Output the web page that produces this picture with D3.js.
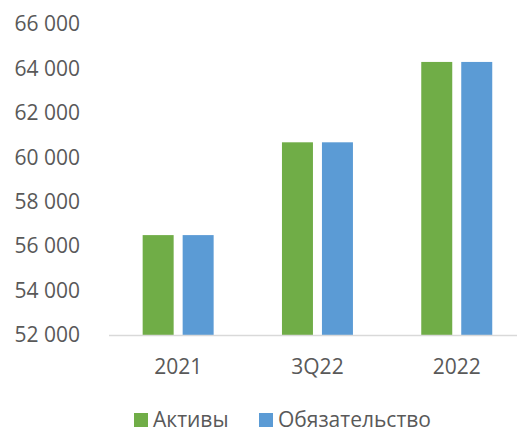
<!DOCTYPE html>
<html>
<head>
<meta charset="utf-8">
<script src="https://cdn.jsdelivr.net/npm/d3@7"></script>
<style>
  body { margin: 0; background: #fff; }
  svg { display: block; font-family: "Open Sans", sans-serif; }
</style>
</head>
<body>
<svg></svg>
<script>
let categories = ['2021', '3Q22', '2022']
let seriesNames = ['Активы', 'Обязательство']
let assets = [56500, 60680, 64300]
let liabilities = [56500, 60680, 64300]
let yTicks = [52000, 54000, 56000, 58000, 60000, 62000, 64000, 66000]
let colors = ['#70AD47', '#5B9BD5']

let width = 517
let height = 427
let plotLeft = 108.5
let step = 139.3
let plotBottom = 335
let plotTop = 24.2

let svg = d3.select('svg')
    .attr('width', width)
    .attr('height', height)

let values = [assets, liabilities]

let xScale = d3.scaleBand()
    .domain(categories)
    .range([plotLeft, plotLeft + step * categories.length])

let xInner = d3.scaleBand()
    .domain(seriesNames)
    .range([0, xScale.bandwidth()])
    .paddingInner(0.225)
    .paddingOuter(0.854)

let yScale = d3.scaleLinear()
    .domain([52000, 66000])
    .range([plotBottom, plotTop])

let fmt = d => d3.format(',')(d).replace(/,/g, ' ')

// y labels (no axis line)
let yAxis = d3.axisLeft(yScale)
    .tickValues(yTicks)
    .tickSize(0)
    .tickPadding(0)
    .tickFormat(fmt)
svg.append('g')
    .attr('transform', 'translate(80, 0)')
    .call(yAxis)
    .call(g => g.select('.domain').remove())
    .selectAll('text')
    .attr('fill', '#595959')
    .style('font-size', '21px')
    .style('font-family', '"Open Sans", sans-serif')

// bars
categories.forEach((cat, i) => {
    seriesNames.forEach((s, j) => {
        svg.append('rect')
            .attr('x', xScale(cat) + xInner(s))
            .attr('y', yScale(values[j][i]))
            .attr('width', xInner.bandwidth())
            .attr('height', plotBottom - yScale(values[j][i]))
            .attr('fill', colors[j])
    })
})

// x axis
let xAxis = d3.axisBottom(xScale)
    .tickSize(0)
    .tickPadding(24)
svg.append('g')
    .attr('transform', 'translate(0, ' + plotBottom + ')')
    .call(xAxis)
    .call(g => g.select('.domain').attr('stroke', '#D9D9D9').attr('stroke-width', 1.3))
    .selectAll('text')
    .attr('fill', '#595959')
    .style('font-size', '21px')
    .style('font-family', '"Open Sans", sans-serif')

// legend
let legendX = [134, 259]
seriesNames.forEach((s, j) => {
    svg.append('rect')
        .attr('x', legendX[j])
        .attr('y', 413)
        .attr('width', 14)
        .attr('height', 14)
        .attr('fill', colors[j])
    svg.append('text')
        .attr('x', legendX[j] + 19)
        .attr('y', 426.5)
        .attr('fill', '#595959')
        .style('font-size', '21px')
        .text(s)
})
</script>
</body>
</html>
